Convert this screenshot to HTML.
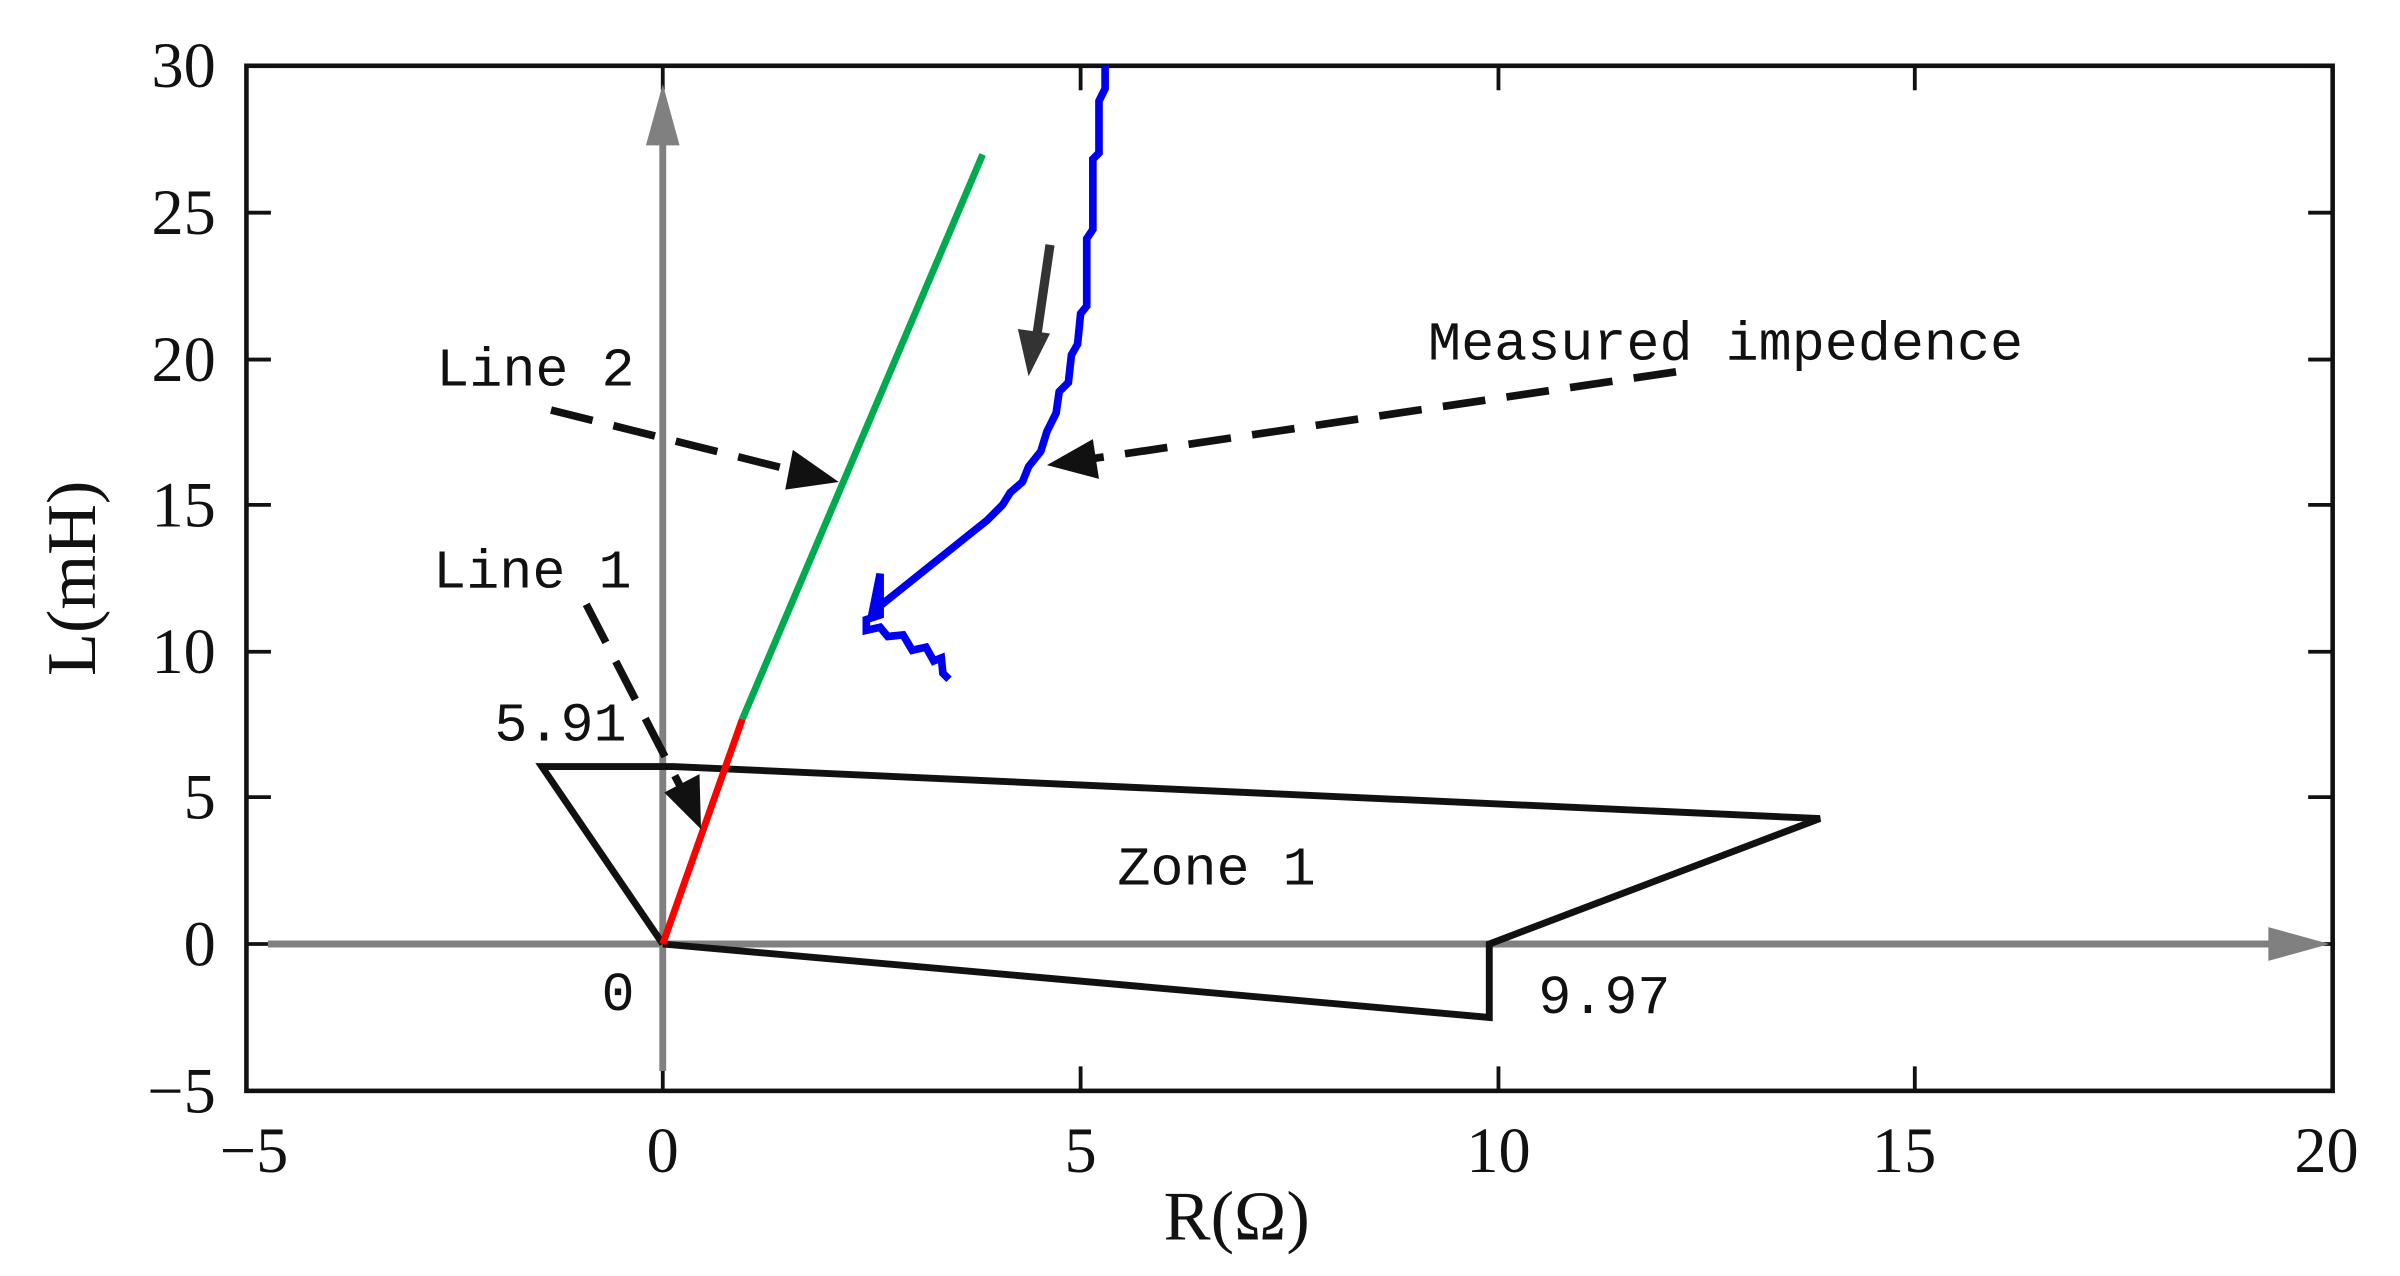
<!DOCTYPE html>
<html><head><style>
html,body{margin:0;padding:0;background:#fff;}
svg{display:block;}
text{font-family:"Liberation Serif",serif;fill:#111;}
.m{font-family:"Liberation Mono",monospace;}
</style></head><body>
<svg width="2400" height="1276" viewBox="0 0 1568 834" preserveAspectRatio="none" xmlns="http://www.w3.org/2000/svg">
<rect x="161" y="43" width="1363" height="670" fill="none" stroke="#111" stroke-width="3"/>
<g stroke="#111" stroke-width="2.5">
<line x1="161" y1="43" x2="177" y2="43"/><line x1="161" y1="139" x2="177" y2="139"/><line x1="161" y1="235" x2="177" y2="235"/><line x1="161" y1="330" x2="177" y2="330"/><line x1="161" y1="426" x2="177" y2="426"/><line x1="161" y1="521" x2="177" y2="521"/><line x1="161" y1="617" x2="177" y2="617"/>
<line x1="1524" y1="43" x2="1508" y2="43"/><line x1="1524" y1="139" x2="1508" y2="139"/><line x1="1524" y1="235" x2="1508" y2="235"/><line x1="1524" y1="330" x2="1508" y2="330"/><line x1="1524" y1="426" x2="1508" y2="426"/><line x1="1524" y1="521" x2="1508" y2="521"/><line x1="1524" y1="617" x2="1508" y2="617"/>
<line x1="433" y1="713" x2="433" y2="697"/><line x1="706" y1="713" x2="706" y2="697"/><line x1="979" y1="713" x2="979" y2="697"/><line x1="1251" y1="713" x2="1251" y2="697"/>
<line x1="433" y1="43" x2="433" y2="59"/><line x1="706" y1="43" x2="706" y2="59"/><line x1="979" y1="43" x2="979" y2="59"/><line x1="1251" y1="43" x2="1251" y2="59"/>
</g>
<g font-size="42" text-anchor="end">
<text x="141" y="57">30</text><text x="141" y="153">25</text><text x="141" y="249">20</text><text x="141" y="344">15</text><text x="141" y="440">10</text><text x="141" y="535">5</text><text x="141" y="631">0</text><text x="141" y="727">−5</text>
</g>
<g font-size="42" text-anchor="middle">
<text x="166" y="766">−5</text><text x="433" y="766">0</text><text x="706" y="766">5</text><text x="979" y="766">10</text><text x="1244" y="766">15</text><text x="1520" y="766">20</text>
</g>
<g font-size="46" text-anchor="middle">
<text x="808" y="810">R(Ω)</text>
<text transform="translate(62,378) rotate(-90)">L(mH)</text>
</g>
<g stroke="#808080" stroke-width="4.5" fill="#808080">
<line x1="175" y1="617" x2="1490" y2="617"/>
<polygon points="1522,617 1482,606 1482,628" stroke="none"/>
<line x1="433" y1="700" x2="433" y2="88"/>
<polygon points="433,55 422,95 444,95" stroke="none"/>
</g>
<polyline points="433,617 354,501 440,501 1189,535 973,617 973,665 433,617" fill="none" stroke="#111" stroke-width="4.5"/>
<line x1="433" y1="617" x2="485" y2="470" stroke="#f00" stroke-width="4.5"/>
<line x1="485" y1="470" x2="642" y2="101" stroke="#00aa4f" stroke-width="4.5"/>
<polyline points="722,43 722,58 718,66 718,100 714,104 714,150 710,156 710,200 706,205 704,225 700,232 698,250 692,256 690,270 684,282 680,295 672,305 668,315 660,322 655,330 645,340 570,400 575,375 575,402 566,405 566,412 575,410 580,416 590,415 596,425 605,423 610,432 615,430 616,440 620,444" fill="none" stroke="#0000f0" stroke-width="5"/>
<g stroke="#111" stroke-width="5" stroke-dasharray="28,14" fill="none">
<line x1="360" y1="268" x2="520" y2="308"/>
<line x1="383" y1="395" x2="445" y2="515"/>
<line x1="1095" y1="243" x2="712" y2="300"/>
</g>
<g fill="#111">
<polygon points="548,315 513,320 518,294"/>
<polygon points="458,542 434,518 457,506"/>
<polygon points="684,304 714,287 718,313"/>
</g>
<line x1="686" y1="160" x2="677" y2="222" stroke="#333" stroke-width="6"/>
<polygon points="672,246 665,215 686,218" fill="#333"/>
<g font-size="36">
<text x="285" y="252" class="m">Line 2</text>
<text x="283" y="384" class="m">Line 1</text>
<text x="933" y="235" class="m">Measured impedence</text>
<text x="730" y="578" class="m">Zone 1</text>
<text x="323" y="484" class="m">5.91</text>
<text x="393" y="660" class="m">0</text>
<text x="1005" y="662" class="m">9.97</text>
</g>
</svg>
</body></html>
